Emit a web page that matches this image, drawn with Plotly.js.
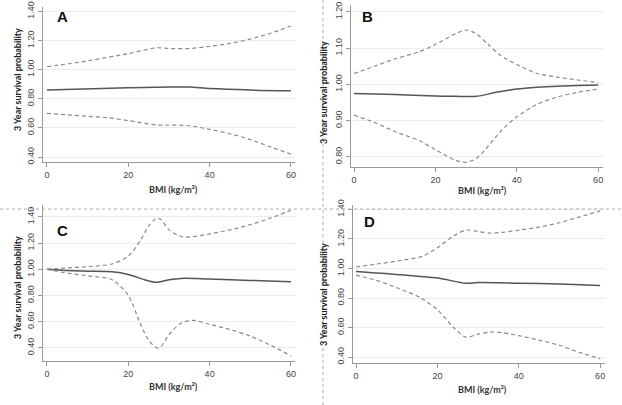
<!DOCTYPE html>
<html><head><meta charset="utf-8">
<script src="https://cdn.plot.ly/plotly-3.0.1.min.js"></script>
<style>html,body{margin:0;padding:0;background:#fff}#chart{width:622px;height:405px}</style>
</head><body><div id="chart"></div>
<script>
// Panel A
const bmiA_up = [0,10,20,27,30,35,40,45,50,55,60];
const upperA  = [1.02,1.06,1.11,1.15,1.145,1.145,1.16,1.18,1.21,1.25,1.30];
const bmiA_c  = [0,20,30,35,40,50,60];
const centerA = [0.86,0.875,0.88,0.88,0.87,0.86,0.855];
const bmiA_lo = [0,5,10,15,20,27,30,35,40,45,50,55,60];
const lowerA  = [0.70,0.69,0.68,0.67,0.65,0.62,0.62,0.615,0.59,0.56,0.52,0.47,0.42];
// Panel B
const bmiB_up = [0,5,10,16,20,25,27.5,30,33,36,40,45,50,55,60];
const upperB  = [1.03,1.05,1.07,1.09,1.11,1.14,1.15,1.14,1.11,1.08,1.055,1.03,1.02,1.012,1.005];
const bmiB_c  = [0,10,20,25,30,35,40,45,50,60];
const centerB = [0.975,0.972,0.968,0.967,0.967,0.978,0.987,0.992,0.995,0.998];
const bmiB_lo = [0,5,10,16,20,25,27.5,30,33,36,40,45,50,55,60];
const lowerB  = [0.915,0.895,0.87,0.845,0.82,0.79,0.785,0.795,0.83,0.87,0.91,0.945,0.965,0.978,0.987];
// Panel C
const bmiC_up = [0,5,10,16,20,23,25,27,28,30,33,35,40,45,50,55,60];
const upperC  = [1.00,1.01,1.02,1.04,1.10,1.22,1.33,1.39,1.38,1.30,1.25,1.245,1.27,1.30,1.34,1.39,1.45];
const bmiC_c  = [0,5,10,16,20,24,27,30,33,40,50,60];
const centerC = [1.00,0.99,0.985,0.98,0.96,0.92,0.90,0.92,0.93,0.925,0.915,0.905];
const bmiC_lo = [0,5,10,16,20,23,25,27,28,30,33,36,40,45,50,55,60];
const lowerC  = [1.00,0.97,0.95,0.92,0.80,0.58,0.46,0.40,0.41,0.50,0.59,0.61,0.58,0.54,0.49,0.42,0.34];
// Panel D
const bmiD_up = [0,5,10,16,20,24,27,30,33,36,40,45,50,55,60];
const upperD  = [1.01,1.03,1.05,1.08,1.14,1.22,1.26,1.25,1.24,1.245,1.26,1.28,1.31,1.35,1.39];
const bmiD_c  = [0,10,20,27,30,40,50,60];
const centerD = [0.98,0.96,0.935,0.90,0.905,0.90,0.895,0.885];
const bmiD_lo = [0,5,10,16,20,24,27,30,33,36,40,45,50,55,60];
const lowerD  = [0.955,0.92,0.87,0.80,0.72,0.60,0.535,0.555,0.57,0.565,0.545,0.515,0.48,0.43,0.39];

const panelLetters = ["A","B","C","D"];
const xTicks = [0,20,40,60];
const yTicksACD = [0.4,0.6,0.8,1.0,1.2,1.4];
const yTicksB = [0.8,0.9,1.0,1.1,1.2];
const xTitle = "BMI (kg/m\u00b2)";
const yTitle = "3 Year survival probability";

const W = 622, H = 405;
const px = v => v / W, py = v => 1 - v / H;

const DASH = {color:'#8a8a8a', width:1.2, dash:'4px,3px', shape:'spline', smoothing:0.8};
const SOLID = {color:'#555', width:1.5, shape:'spline', smoothing:0.8};

function tr(x, y, n, line){ 
  const s = n===1 ? '' : String(n);
  return {x:x, y:y, type:'scatter', mode:'lines', line:line, xaxis:'x'+s, yaxis:'y'+s, hoverinfo:'skip', showlegend:false};
}
const data = [
  tr(bmiA_up, upperA, 1, DASH), tr(bmiA_c, centerA, 1, SOLID), tr(bmiA_lo, lowerA, 1, DASH),
  tr(bmiB_up, upperB, 2, DASH), tr(bmiB_c, centerB, 2, SOLID), tr(bmiB_lo, lowerB, 2, DASH),
  tr(bmiC_up, upperC, 3, DASH), tr(bmiC_c, centerC, 3, SOLID), tr(bmiC_lo, lowerC, 3, DASH),
  tr(bmiD_up, upperD, 4, DASH), tr(bmiD_c, centerD, 4, SOLID), tr(bmiD_lo, lowerD, 4, DASH)
];

const tickFont = {family:'Liberation Sans Narrow, Liberation Sans, Arial', size:9, color:'#444'};
function xa(d0, d1, range, anchor){
  return {domain:[px(d0), px(d1)], range:range, anchor:anchor, tickvals:xTicks, ticktext:xTicks.map(String),
    showline:true, linecolor:'#999', linewidth:1.2, ticks:'outside', ticklen:4, tickcolor:'#999',
    showgrid:false, zeroline:false, tickfont:tickFont, fixedrange:true};
}
function ya(top, bot, range, anchor, tv){
  return {domain:[py(bot), py(top)], range:range, anchor:anchor, tickvals:tv, ticktext:tv.map(v=>v.toFixed(2)),
    tickangle:-90, showline:true, linecolor:'#999', linewidth:1.2, ticks:'outside', ticklen:4, tickcolor:'#999',
    showgrid:true, gridcolor:'#ececec', gridwidth:1, zeroline:false, tickfont:tickFont, fixedrange:true};
}

const ann = [];
function addAnn(x, y, text, font, angle){
  ann.push({x:px(x), y:py(y), xref:'paper', yref:'paper', xanchor:'center', yanchor:'middle',
    text:text, textangle:angle||0, showarrow:false, font:font});
}
const letterPos = [[62,17],[367,17],[62,230],[369,221]];
letterPos.forEach((p,i)=>addAnn(p[0], p[1], '<b>'+panelLetters[i]+'</b>', {family:'Liberation Sans, Arial', size:15, color:'#111'}));
const xtPos = [[173,189],[482,190],[173,386],[482,389]];
xtPos.forEach(p=>addAnn(p[0], p[1], '<b>'+xTitle+'</b>', {family:'Lato, Open Sans, sans-serif', size:9, color:'#333'}));
const ytPos = [[17,80],[323,93],[17,288],[323,295]];
ytPos.forEach(p=>addAnn(p[0], p[1], '<b>'+yTitle+'</b>', {family:'Lato, Open Sans, sans-serif', size:9, color:'#222'}, -90));

const layout = {
  width:W, height:H, margin:{l:0,r:0,t:0,b:0}, paper_bgcolor:'#fff', plot_bgcolor:'#fff', showlegend:false,
  xaxis:  xa(43, 295, [-0.98, 61], 'y'),
  yaxis:  ya(7, 162, [0.366, 1.43], 'x', yTicksACD),
  xaxis2: xa(351, 603, [-0.74, 61.2], 'y2'),
  yaxis2: ya(5, 167, [0.772, 1.219], 'x2', yTicksB),
  xaxis3: xa(43, 295, [-0.98, 61], 'y3'),
  yaxis3: ya(205, 361, [0.30, 1.49], 'x3', yTicksACD),
  xaxis4: xa(353, 605, [-0.74, 61.2], 'y4'),
  yaxis4: ya(205, 363, [0.36, 1.43], 'x4', yTicksACD),
  annotations: ann,
  shapes: [
    {type:'line', xref:'paper', yref:'paper', x0:0, x1:1, y0:py(209), y1:py(209), line:{color:'#aaa', width:1, dash:'3px,3px'}},
    {type:'line', xref:'paper', yref:'paper', x0:px(323), x1:px(323), y0:0, y1:1, line:{color:'#aaa', width:1, dash:'3px,3px'}}
  ]
};
Plotly.newPlot('chart', data, layout, {displayModeBar:false, staticPlot:true});
</script></body></html>
